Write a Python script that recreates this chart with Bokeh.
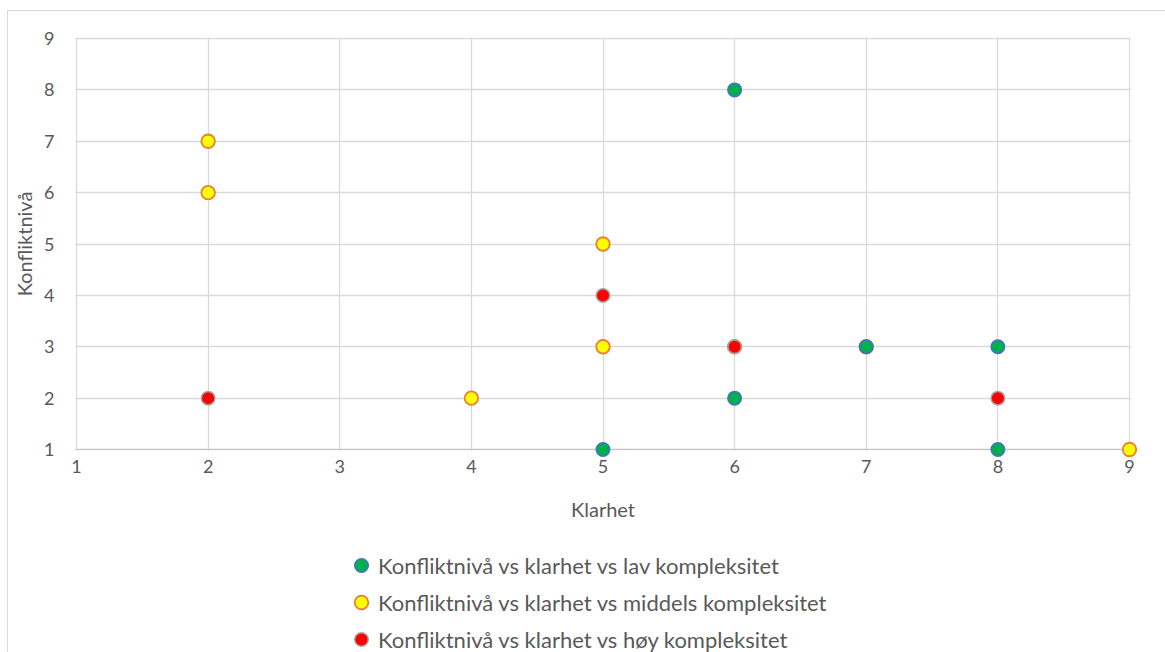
from bokeh.plotting import figure
from bokeh.layouts import column
from bokeh.models import Range1d, FixedTicker, Legend, LegendItem, Grid, InlineStyleSheet, BoxAnnotation
from bokeh.embed import file_html
from bokeh.resources import INLINE

# Data
lav_x = [6, 6, 5, 8, 8, 7]
lav_y = [8, 2, 1, 3, 1, 3]
mid_x = [2, 2, 5, 5, 4, 9, 7, 6]
mid_y = [7, 6, 5, 3, 2, 1, 3, 3]
hoy_x = [2, 5, 6, 8]
hoy_y = [2, 4, 3, 2]
ticks = [1, 2, 3, 4, 5, 6, 7, 8, 9]
labels = ["Konfliktnivå vs klarhet vs lav kompleksitet",
          "Konfliktnivå vs klarhet vs middels kompleksitet",
          "Konfliktnivå vs klarhet vs høy kompleksitet"]

FONT = "Lato"
TXT = "#595959"
GRID = "#d9d9d9"

# frame padding (px) so that markers on the edge are not clipped
PAD = 10
XPX = (1129 - 76) / 8.0
YPX = (449 - 38) / 8.0

lav_style = dict(fill_color="#00B050", line_color="#4472C4", line_width=1.5)
mid_style = dict(fill_color="#FFFF00", line_color="#ED7D31", line_width=1.8)
hoy_style = dict(fill_color="#FF0000", line_color="#A5A5A5", line_width=1.5)
MS = 13.5

p = figure(width=1165, height=535, output_backend="svg", toolbar_location=None,
           x_range=Range1d(1 - PAD / XPX, 9 + PAD / XPX),
           y_range=Range1d(1 - PAD / YPX, 9 + PAD / YPX),
           min_border_left=76 - PAD, min_border_right=1165 - 1129 - PAD,
           min_border_top=38 - PAD, min_border_bottom=535 - 449 - PAD,
           x_axis_label="Klarhet", y_axis_label="Konfliktnivå")
p.outline_line_color = None
p.background_fill_color = "white"
p.border_fill_color = "white"

for ax in (p.xaxis[0], p.yaxis[0]):
    ax.ticker = FixedTicker(ticks=ticks)
    ax.axis_line_color = None
    ax.major_tick_line_color = None
    ax.minor_tick_line_color = None
    ax.major_tick_out = 0
    ax.major_tick_in = 0
    ax.major_label_text_font = FONT
    ax.major_label_text_font_size = "18px"
    ax.major_label_text_color = TXT
    ax.axis_label_text_font = FONT
    ax.axis_label_text_font_size = "20px"
    ax.axis_label_text_font_style = "normal"
    ax.axis_label_text_color = TXT
p.xaxis[0].major_label_standoff = 0
p.xaxis[0].axis_label_standoff = 21
p.yaxis[0].major_label_standoff = 12
p.yaxis[0].axis_label_standoff = 5

p.xgrid.ticker = FixedTicker(ticks=ticks)
p.ygrid.ticker = FixedTicker(ticks=ticks[1:])
p.xgrid.bounds = (1, 9)
p.ygrid.bounds = (1, 9)
p.xgrid.grid_line_color = GRID
p.ygrid.grid_line_color = GRID
p.xgrid.grid_line_width = 1.3
p.ygrid.grid_line_width = 1.3
# horizontal axis line at y = 1
p.add_layout(Grid(dimension=1, ticker=FixedTicker(ticks=[1]), bounds=(1, 9),
                  grid_line_color="#c4c4c4", grid_line_width=1.3))

# white covers so grid lines stop at the 1..9 box (markers may still overhang)
e_x = 1.0 / XPX
e_y = 1.0 / YPX
for kw in (dict(left=9 + e_x), dict(right=1 - e_x), dict(top=1 - e_y), dict(bottom=9 + e_y)):
    p.add_layout(BoxAnnotation(fill_color="white", fill_alpha=1, line_color=None,
                               level="underlay", **kw))

p.scatter(mid_x, mid_y, size=MS, **mid_style)
p.scatter(lav_x, lav_y, size=MS, **lav_style)
p.scatter(hoy_x, hoy_y, size=MS, **hoy_style)

# legend figure below
LH = 652 - 535
q = figure(width=1165, height=LH, output_backend="svg", toolbar_location=None,
           x_axis_type=None, y_axis_type=None, min_border=0,
           x_range=Range1d(0, 1), y_range=Range1d(0, 1))
q.outline_line_color = None
q.xgrid.visible = False
q.ygrid.visible = False
q.border_fill_color = "white"
g_lav = q.scatter([-5], [-5], size=MS, **lav_style)
g_mid = q.scatter([-5], [-5], size=MS, **mid_style)
g_hoy = q.scatter([-5], [-5], size=MS, **hoy_style)

GH = 34
legend = Legend(items=[LegendItem(label=labels[0], renderers=[g_lav]),
                       LegendItem(label=labels[1], renderers=[g_mid]),
                       LegendItem(label=labels[2], renderers=[g_hoy])],
                location=(278, -4),
                orientation="vertical",
                glyph_width=GH, glyph_height=GH, label_height=GH, spacing=3,
                label_standoff=0,
                label_text_font=FONT, label_text_font_size="22px", label_text_color=TXT,
                border_line_color=None, background_fill_alpha=0, padding=0, margin=0)
q.add_layout(legend, "center")

sheet = InlineStyleSheet(css="""
:host { position: relative; }
:host::after { content: ''; position: absolute; left: 7px; top: 10px; right: 0px; bottom: 0px;
  border-left: 1px solid #d9d9d9; border-top: 1px solid #d9d9d9; pointer-events: none; }
""")
layout = column(p, q, spacing=0, stylesheets=[sheet])

open("out.html", "w").write(file_html(layout, INLINE))
